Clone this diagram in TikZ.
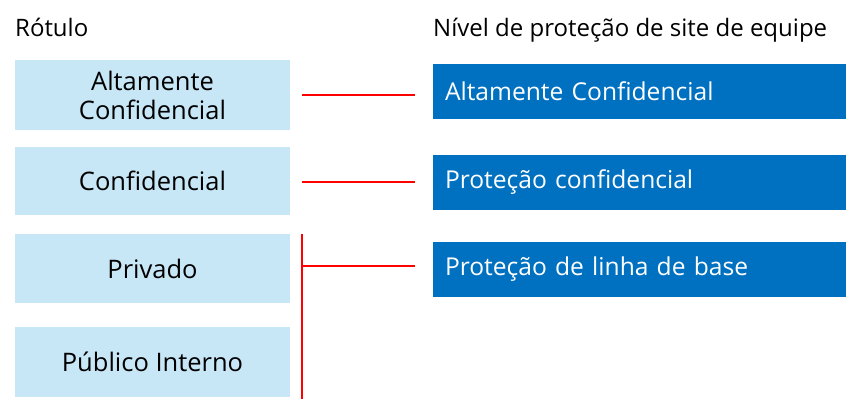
\documentclass[tikz,border=0pt]{standalone}
\usepackage{fontspec}
\setmainfont{Open Sans}
\definecolor{lblue}{HTML}{C7E6F6}
\definecolor{dblue}{HTML}{0070C0}
\definecolor{lred}{HTML}{FF0000}
\begin{document}
\begin{tikzpicture}[x=1pt,y=1pt,
  lbox/.style={fill=lblue,draw=none,minimum width=275pt,inner sep=0pt,align=center,font=\fontsize{25.5}{29}\selectfont,text=black},
  rbox/.style={fill=dblue,draw=none,minimum width=413pt,minimum height=55pt,inner sep=0pt,text=white,font=\fontsize{24.6}{28}\selectfont,text width=389pt,align=left},
  link/.style={draw=lred,line width=2pt},
  head/.style={anchor=base west,inner sep=0pt,font=\fontsize{24}{28}\selectfont}]
\useasboundingbox (0,0) rectangle (846,400);
\node[head] (h1) at (15,363) {Rótulo};
\node[head] (h2) at (433,363) {Nível de proteção de site de equipe};
\node[lbox,minimum height=70pt] (l1) at (152.5,305) {Altamente\\Confidencial};
\node[lbox,minimum height=68pt] (l2) at (152.5,219) {Confidencial};
\node[lbox,minimum height=69pt] (l3) at (152.5,131.5) {Privado};
\node[lbox,minimum height=70pt] (l4) at (152.5,38) {Público Interno};
\node[rbox] (r1) at (639.5,308.5) {Altamente Confidencial};
\node[rbox] (r2) at (639.5,217.5) {Proteção confidencial};
\node[rbox] (r3) at (639.5,130.5) {Proteção de linha de base};
\coordinate (ta) at (302,166);
\coordinate (tb) at (302,1);
\coordinate (tm) at (302,134.5);
\path[link] (302,305) -- (415,305);
\path[link] (302,218) -- (415,218);
\path[link] (ta) -- (tb);
\path[link] (tm) -- (tm -| 415,0);
\end{tikzpicture}
\end{document}
